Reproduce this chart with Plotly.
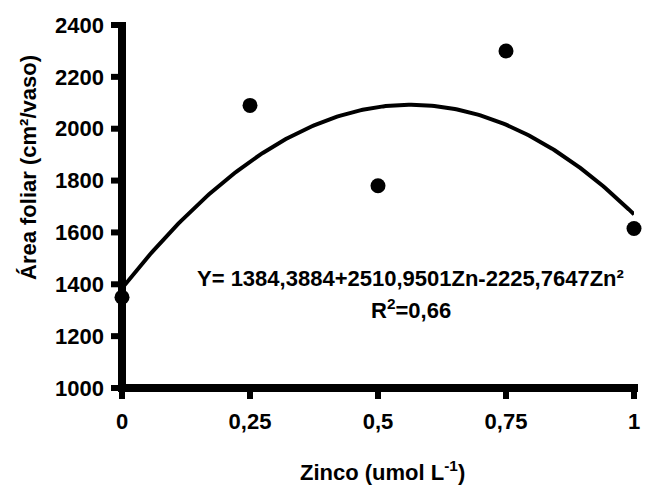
import numpy as np
import plotly.graph_objects as go

# Data
zinc = [0, 0.25, 0.5, 0.75, 1]
area = [1350, 2090, 1780, 2300, 1615]
x_ticks = [0, 0.25, 0.5, 0.75, 1]
x_ticklabels = ["0", "0,25", "0,5", "0,75", "1"]
y_ticks = [1000, 1200, 1400, 1600, 1800, 2000, 2200, 2400]
# regression coefficients shown in the chart
coef = [1384.3884, 2510.9501, -2225.7647]

xf = np.linspace(0, 1, 201)
yf = coef[0] + coef[1] * xf + coef[2] * xf ** 2

FONT = "Liberation Sans, Arial, sans-serif"
BOLD = dict(family=FONT, size=22, color="black", weight="bold")

W, H = 656, 486
ML, MR, MT, MB = 122, 22, 25, 98
PW, PH = W - ML - MR, H - MT - MB
X0, X1 = 0, 1
Y0, Y1 = 1000, 2400
LW = 8      # axis line / tick thickness (px)
TL = 11     # tick length from axis centre (px)


def px_w(p):   # pixels -> paper fraction (horizontal)
    return p / PW


def px_h(p):   # pixels -> paper fraction (vertical)
    return p / PH


def xpaper(v):
    return (v - X0) / (X1 - X0)


def ypaper(v):
    return (v - Y0) / (Y1 - Y0)


rect = dict(type="rect", xref="paper", yref="paper", fillcolor="black",
            line=dict(width=0), layer="above")
shapes = [
    # y axis line
    dict(rect, x0=-px_w(LW / 2), x1=px_w(LW / 2), y0=-px_h(LW / 2), y1=1 + px_h(3)),
    # x axis line
    dict(rect, x0=-px_w(LW / 2), x1=1 + px_w(LW / 2), y0=-px_h(LW / 2), y1=px_h(LW / 2)),
]
for v in y_ticks:
    yp = ypaper(v)
    shapes.append(dict(rect, x0=-px_w(TL), x1=0, y0=yp - px_h(LW / 2 - 1), y1=yp + px_h(LW / 2 - 1)))
for v in x_ticks:
    xp = xpaper(v)
    shapes.append(dict(rect, x0=xp - px_w(LW / 2 - 1), x1=xp + px_w(LW / 2 - 1), y0=-px_h(TL), y1=0))

fig = go.Figure()
fig.add_trace(go.Scatter(x=xf, y=yf, mode="lines",
                         line=dict(color="black", width=4),
                         hoverinfo="skip", showlegend=False, cliponaxis=False))
fig.add_trace(go.Scatter(x=zinc, y=area, mode="markers",
                         marker=dict(color="black", size=15),
                         showlegend=False, cliponaxis=False))

fig.update_layout(
    width=W, height=H,
    margin=dict(l=ML, r=MR, t=MT, b=MB, autoexpand=False),
    paper_bgcolor="white", plot_bgcolor="white",
    font=BOLD,
    xaxis=dict(range=[X0, X1], tickvals=x_ticks, ticktext=x_ticklabels,
               showline=False, ticks="", showgrid=False, zeroline=False,
               tickfont=BOLD, ticklabelstandoff=18, automargin=False),
    yaxis=dict(range=[Y0, Y1], tickvals=y_ticks,
               showline=False, ticks="", showgrid=False, zeroline=False,
               tickfont=BOLD, ticklabelstandoff=17, automargin=False),
    shapes=shapes,
    annotations=[
        dict(x=-94 / PW, y=(388 - 168) / PH, xref="paper", yref="paper", showarrow=False,
             text="Área foliar (cm²/vaso)", textangle=-90,
             font=BOLD, xanchor="center", yanchor="middle"),
        dict(x=0.508, y=-83 / PH, xref="paper", yref="paper", showarrow=False,
             text="Zinco (umol L<sup>-1</sup>)",
             font=BOLD, xanchor="center", yanchor="middle"),
        dict(x=0.564, y=1424, xref="paper", yref="y", showarrow=False,
             text="Y= 1384,3884+2510,9501Zn-2225,7647Zn²",
             font=BOLD, xanchor="center", yanchor="middle"),
        dict(x=0.564, y=1305, xref="paper", yref="y", showarrow=False,
             text="R<sup>2</sup>=0,66",
             font=BOLD, xanchor="center", yanchor="middle"),
    ],
)

fig.write_html("out.html")
